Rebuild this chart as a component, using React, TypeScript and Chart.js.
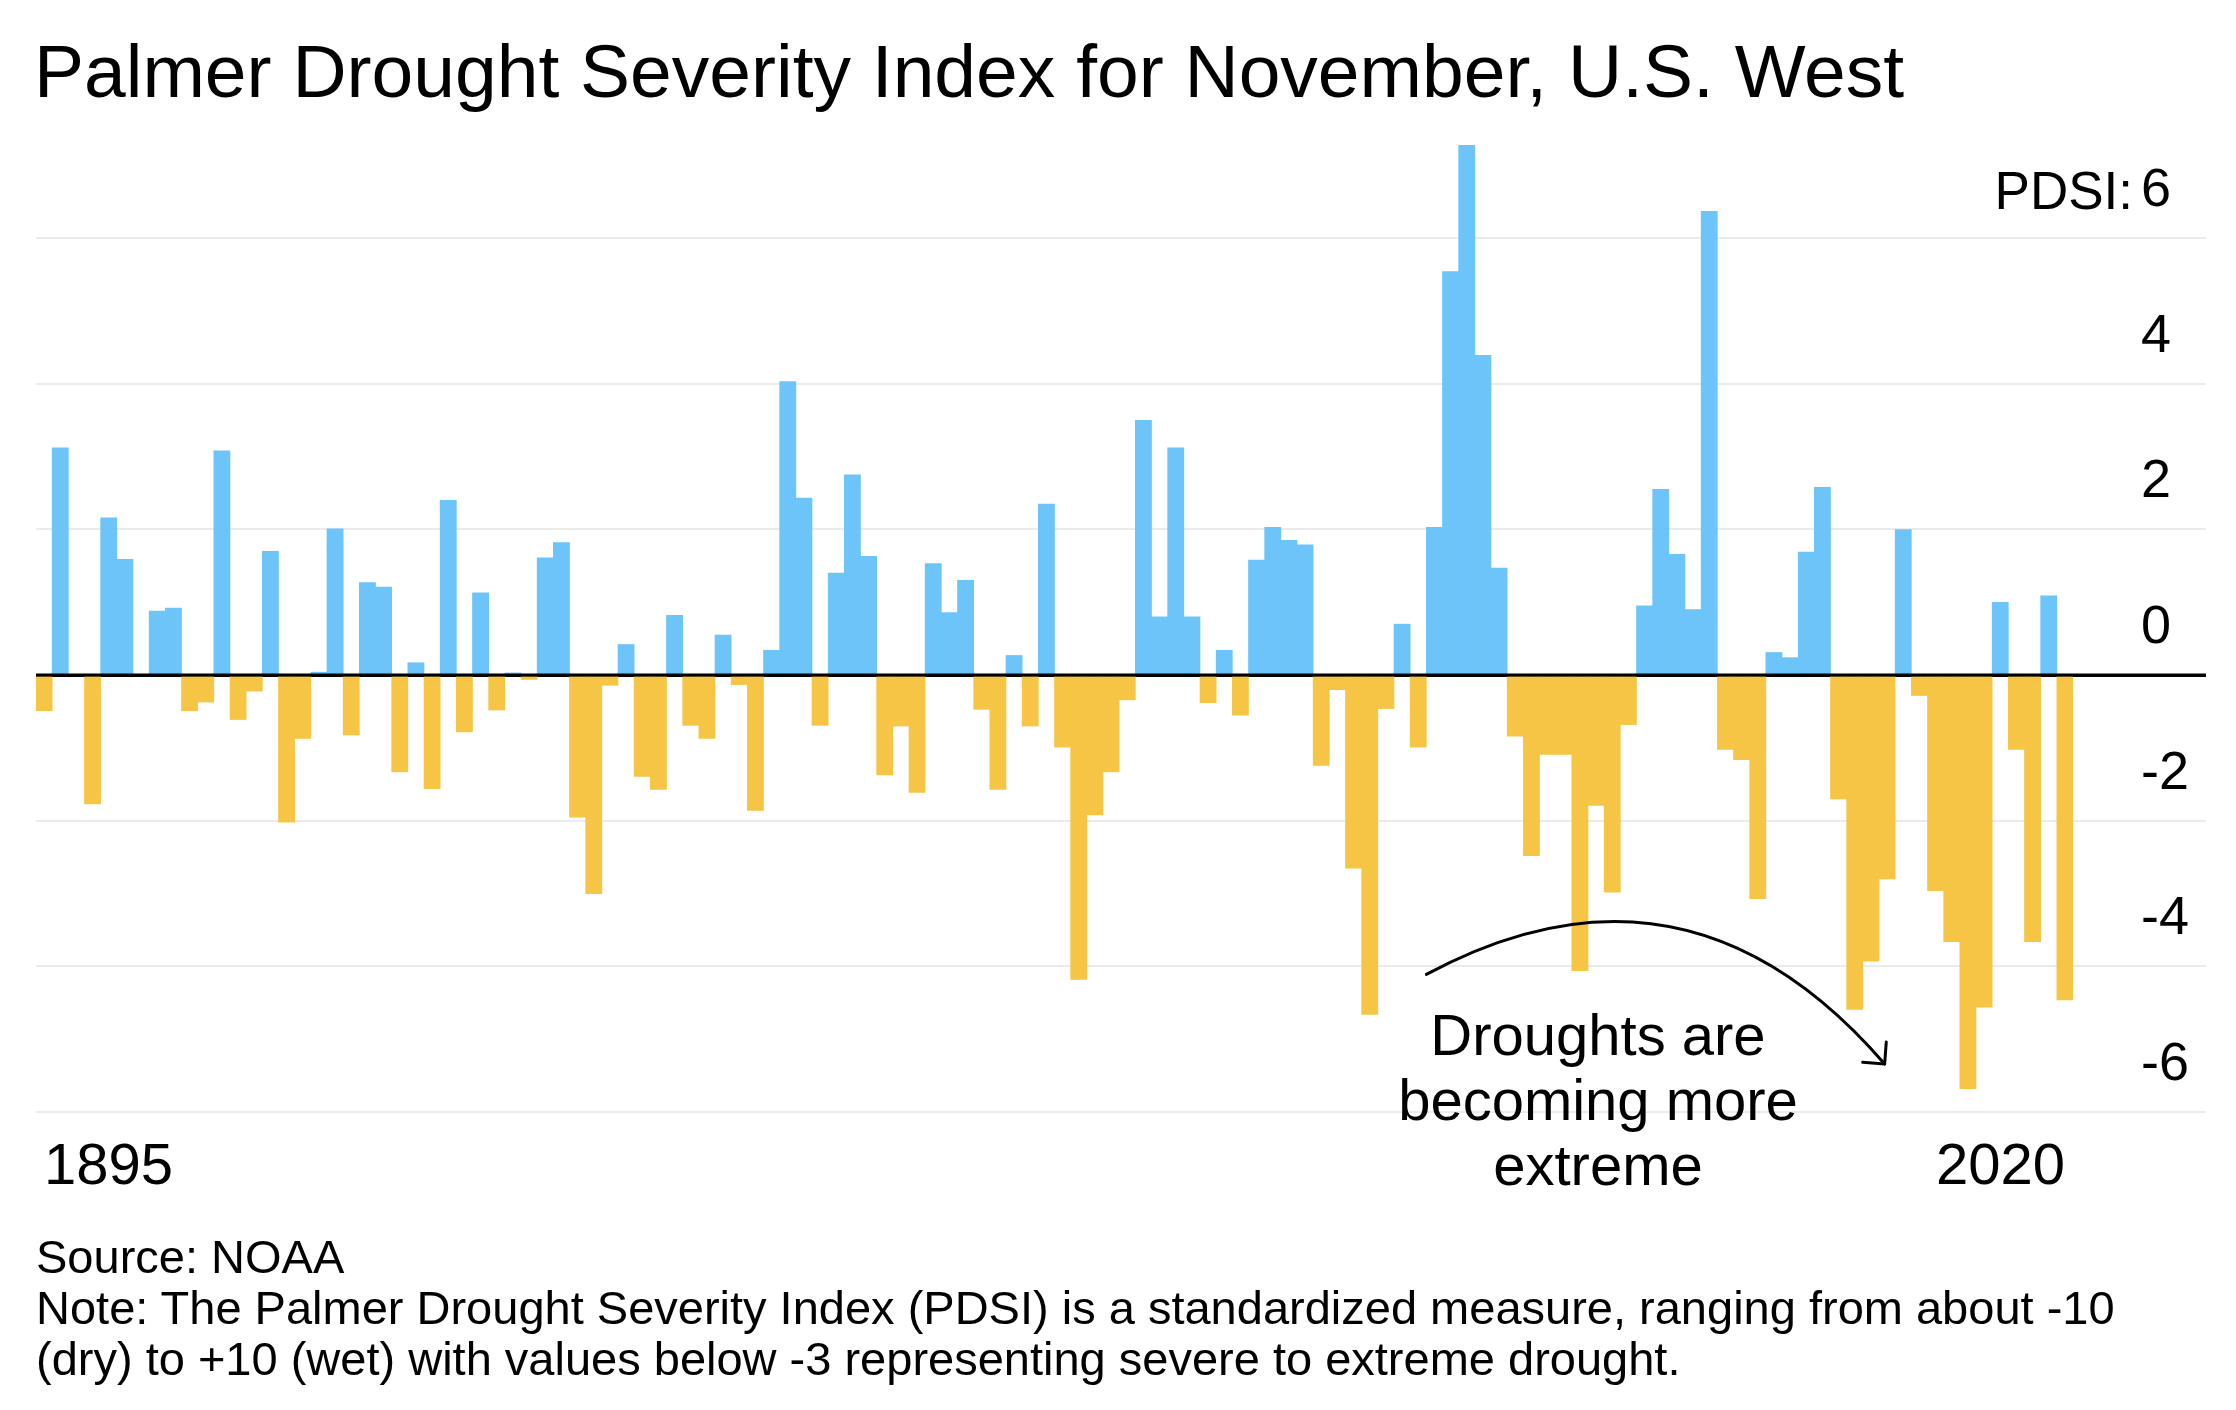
import React, { useEffect, useRef } from "react";
import { Chart, registerables } from "chart.js";

Chart.register(...registerables);

const FONT = '"Liberation Sans", Arial, Helvetica, sans-serif';
const BLUE = "#6cc4f9";
const YELLOW = "#f6c545";
const GRID = "#ebebeb";

// Categories: November of each year
const years = [
  1895, 1896, 1897, 1898, 1899, 1900, 1901, 1902, 1903, 1904,
  1905, 1906, 1907, 1908, 1909, 1910, 1911, 1912, 1913, 1914,
  1915, 1916, 1917, 1918, 1919, 1920, 1921, 1922, 1923, 1924,
  1925, 1926, 1927, 1928, 1929, 1930, 1931, 1932, 1933, 1934,
  1935, 1936, 1937, 1938, 1939, 1940, 1941, 1942, 1943, 1944,
  1945, 1946, 1947, 1948, 1949, 1950, 1951, 1952, 1953, 1954,
  1955, 1956, 1957, 1958, 1959, 1960, 1961, 1962, 1963, 1964,
  1965, 1966, 1967, 1968, 1969, 1970, 1971, 1972, 1973, 1974,
  1975, 1976, 1977, 1978, 1979, 1980, 1981, 1982, 1983, 1984,
  1985, 1986, 1987, 1988, 1989, 1990, 1991, 1992, 1993, 1994,
  1995, 1996, 1997, 1998, 1999, 2000, 2001, 2002, 2003, 2004,
  2005, 2006, 2007, 2008, 2009, 2010, 2011, 2012, 2013, 2014,
  2015, 2016, 2017, 2018, 2019, 2020,
];

// Palmer Drought Severity Index, November, U.S. West
const pdsi = [
  -0.49, 3.12, 0.0, -1.77, 2.16, 1.59, 0.0, 0.88, 0.92, -0.49,
  -0.37, 3.08, -0.61, -0.22, 1.7, -2.02, -0.87, 0.04, 2.01, -0.82,
  1.27, 1.21, -1.33, 0.17, -1.56, 2.4, -0.78, 1.13, -0.48, 0.03,
  -0.06, 1.61, 1.82, -1.95, -3.0, -0.14, 0.42, -1.39, -1.57, 0.82,
  -0.69, -0.87, 0.55, -0.13, -1.86, 0.34, 4.03, 2.43, -0.69, 1.4,
  2.75, 1.63, -1.37, -0.7, -1.61, 1.53, 0.86, 1.3, -0.47, -1.57,
  0.27, -0.7, 2.35, -0.99, -4.18, -1.92, -1.33, -0.34, 3.5, 0.8,
  3.12, 0.8, -0.38, 0.34, -0.55, 1.58, 2.03, 1.85, 1.79, -1.24,
  -0.2, -2.65, -4.66, -0.46, 0.7, -0.99, 2.03, 5.54, 7.28, 4.39,
  1.47, -0.84, -2.48, -1.09, -1.09, -4.06, -1.79, -2.98, -0.68, 0.95,
  2.55, 1.66, 0.9, 6.37, -1.02, -1.16, -3.07, 0.31, 0.24, 1.69,
  2.58, -1.7, -4.59, -3.93, -2.8, 2.0, -0.28, -2.96, -3.66, -5.68,
  -4.56, 1.0, -1.02, -3.66, 1.09, -4.46,
];

const yTicks = [-6, -4, -2, 0, 2, 4, 6];
const yMin = -6;

const titleText = "Palmer Drought Severity Index for November, U.S. West";
const unitLabel = "PDSI:";
const annotationLines = ["Droughts are", "becoming more", "extreme"];
const sourceLines = [
  "Source: NOAA",
  "Note: The Palmer Drought Severity Index (PDSI) is a standardized measure, ranging from about -10",
  "(dry) to +10 (wet) with values below -3 representing severe to extreme drought.",
];

// Annotation arrow anchors in data space: [category index, PDSI value]
const arrowStart = [85.5, -4.11];
const arrowCtrl = [101.6, -2.19];
const arrowEnd = [113.85, -5.34];

const overlayPlugin = {
  id: "overlay",
  afterDatasetsDraw(chart: any) {
    const { ctx, chartArea, scales } = chart;
    const xs = scales.x;
    const ys = scales.y;
    const y0 = ys.getPixelForValue(0);
    ctx.save();
    ctx.strokeStyle = "#000";
    ctx.lineWidth = 3;
    ctx.beginPath();
    ctx.moveTo(chartArea.left, y0);
    ctx.lineTo(ys.right, y0);
    ctx.stroke();

    const sx = xs.getPixelForValue(arrowStart[0]);
    const sy = ys.getPixelForValue(arrowStart[1]);
    const cx = xs.getPixelForValue(arrowCtrl[0]);
    const cy = ys.getPixelForValue(arrowCtrl[1]);
    const ex = xs.getPixelForValue(arrowEnd[0]);
    const ey = ys.getPixelForValue(arrowEnd[1]);
    ctx.lineWidth = 3;
    ctx.lineCap = "round";
    ctx.lineJoin = "round";
    ctx.beginPath();
    ctx.moveTo(sx, sy);
    ctx.quadraticCurveTo(cx, cy, ex, ey);
    ctx.stroke();
    const ang = Math.atan2(ey - cy, ex - cx);
    const L = 22;
    ctx.beginPath();
    ctx.moveTo(ex - L * Math.cos(ang - Math.PI / 4), ey - L * Math.sin(ang - Math.PI / 4));
    ctx.lineTo(ex, ey);
    ctx.lineTo(ex - L * Math.cos(ang + Math.PI / 4), ey - L * Math.sin(ang + Math.PI / 4));
    ctx.stroke();
    ctx.restore();
  },
};

export default function App() {
  const canvasRef = useRef<HTMLCanvasElement | null>(null);

  useEffect(() => {
    const canvas = canvasRef.current;
    if (!canvas) return;
    Chart.defaults.font.family = FONT;
    const chart = new Chart(canvas, {
      type: "bar",
      data: {
        labels: years.map(String),
        datasets: [
          {
            data: pdsi,
            backgroundColor: pdsi.map((v) => (v >= 0 ? BLUE : YELLOW)),
            borderWidth: 0,
            barPercentage: 1,
            categoryPercentage: 1,
          },
        ],
      },
      options: {
        animation: false,
        responsive: false,
        events: [],
        layout: { padding: { left: 36, right: 30, top: 145, bottom: 178 } },
        plugins: {
          legend: { display: false },
          tooltip: { enabled: false },
          title: { display: false },
        },
        scales: {
          x: {
            type: "category",
            grid: { display: false },
            border: { display: false },
            afterFit: (s: any) => {
              s.height = 120;
            },
            ticks: {
              autoSkip: false,
              maxRotation: 0,
              minRotation: 0,
              align: "inner",
              padding: 13,
              color: "#000",
              font: { size: 58, family: FONT },
              callback: (_v: any, i: number) =>
                i === 0 || i === years.length - 1 ? String(years[i]) : "",
            },
          },
          y: {
            type: "linear",
            position: "right",
            min: yMin,
            max: Math.max(...pdsi),
            afterBuildTicks: (s: any) => {
              s.ticks = yTicks.map((v) => ({ value: v }));
            },
            afterFit: (s: any) => {
              s.width = 133;
            },
            border: { display: false },
            grid: {
              drawTicks: true,
              tickLength: 133,
              color: (c: any) => (c.tick && c.tick.value === 0 ? "#000" : GRID),
              tickColor: (c: any) => (c.tick && c.tick.value === 0 ? "#000" : GRID),
              lineWidth: (c: any) => (c.tick && c.tick.value === 0 ? 3 : 2),
              tickWidth: (c: any) => (c.tick && c.tick.value === 0 ? 3 : 2),
            },
            ticks: {
              padding: -65,
              labelOffset: -47,
              color: "#000",
              font: { size: 54, family: FONT },
              callback: (v: any) => String(v),
            },
          },
        },
      },
      plugins: [overlayPlugin],
    } as any);
    return () => chart.destroy();
  }, []);

  const base: React.CSSProperties = {
    position: "absolute",
    whiteSpace: "nowrap",
    color: "#000",
    fontFamily: FONT,
    margin: 0,
  };

  return (
    <div
      style={{
        position: "absolute",
        left: 0,
        top: 0,
        width: 2236,
        height: 1410,
        background: "#fff",
        overflow: "hidden",
      }}
    >
      <canvas
        ref={canvasRef}
        width={2236}
        height={1410}
        style={{ position: "absolute", left: 0, top: 0, width: 2236, height: 1410 }}
      />
      <div style={{ ...base, left: 34, top: 34, fontSize: 75, lineHeight: "75px" }}>{titleText}</div>
      <div
        style={{
          ...base,
          left: 1833,
          top: 164,
          width: 300,
          textAlign: "right",
          fontSize: 53,
          lineHeight: "53px",
        }}
      >
        {unitLabel}
      </div>
      <div
        style={{
          ...base,
          left: 1298,
          top: 1002,
          width: 600,
          textAlign: "center",
          fontSize: 58,
          lineHeight: "65px",
        }}
      >
        {annotationLines.map((l) => (
          <div key={l}>{l}</div>
        ))}
      </div>
      <div style={{ ...base, left: 36, top: 1231, fontSize: 47, lineHeight: "51px" }}>
        {sourceLines.map((l) => (
          <div key={l}>{l}</div>
        ))}
      </div>
    </div>
  );
}
